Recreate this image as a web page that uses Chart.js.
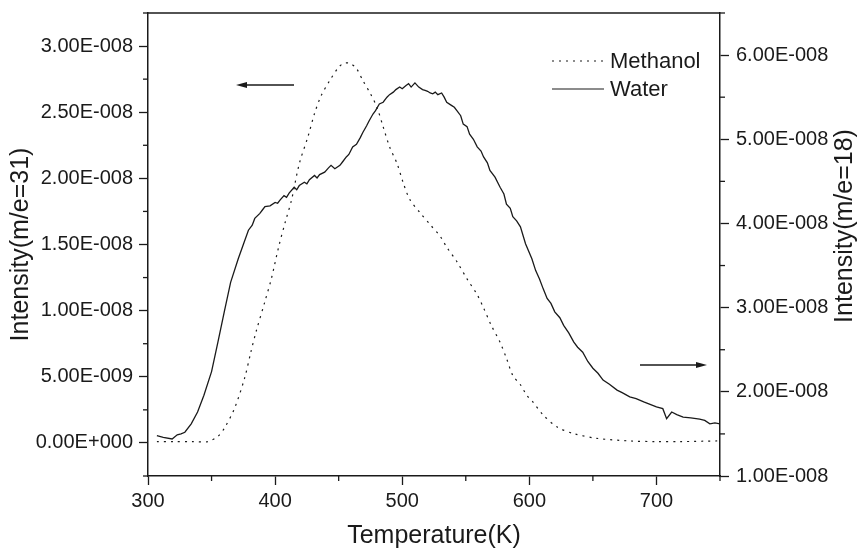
<!DOCTYPE html>
<html>
<head>
<meta charset="utf-8">
<script src="https://cdn.jsdelivr.net/npm/chart.js@4.4.1/dist/chart.umd.min.js"></script>
<style>
  html, body { margin: 0; padding: 0; background: #fff; }
  #wrap { width: 858px; height: 550px; }
</style>
</head>
<body>
<div id="wrap"><canvas id="tpdChart" width="858" height="550"></canvas></div>
<script>
// Methanol (m/e=31), left axis
const methanolT = [307, 320, 335, 347, 355, 360, 368, 376, 381, 385, 392, 397, 403, 408, 413, 419, 426, 431, 436, 443, 450, 454, 459, 464, 469, 475, 480, 485, 490, 496, 501, 506, 514, 522, 530, 535, 543, 551, 559, 564, 570, 577, 582, 587, 593, 598, 602, 611, 622, 635, 653, 679, 700, 719, 748];
const methanolI = [0.01, 0.01, 0.01, 0.01, 0.05, 0.11, 0.26, 0.49, 0.69, 0.84, 1.07, 1.24, 1.49, 1.67, 1.84, 2.11, 2.32, 2.49, 2.62, 2.74, 2.84, 2.87, 2.87, 2.83, 2.74, 2.64, 2.54, 2.39, 2.24, 2.11, 1.96, 1.84, 1.74, 1.65, 1.56, 1.48, 1.37, 1.24, 1.12, 1.02, 0.89, 0.76, 0.64, 0.51, 0.44, 0.36, 0.32, 0.21, 0.12, 0.07, 0.035, 0.015, 0.01, 0.01, 0.015];

// Water (m/e=18), right axis
const waterT = [307, 312, 319, 323, 326, 329, 334, 339, 344, 350, 355, 360, 365, 371, 375, 379, 382, 384, 388, 390, 392, 396, 400, 402, 404, 407, 409, 411, 415, 417, 419, 423, 425, 427, 431, 433, 435, 439, 442, 444, 447, 451, 453, 456, 458, 461, 464, 467, 469, 472, 474, 477, 479, 482, 485, 488, 490, 493, 495, 498, 500, 503, 505, 507, 510, 513, 516, 518, 520, 522, 524, 526, 528, 531, 533, 535, 539, 541, 543, 546, 548, 551, 553, 556, 559, 562, 564, 567, 569, 573, 577, 580, 582, 585, 587, 590, 593, 597, 602, 605, 608, 611, 614, 617, 620, 624, 627, 631, 635, 638, 642, 646, 650, 654, 658, 663, 669, 673, 679, 684, 690, 695, 700, 705, 708, 712, 716, 721, 727, 734, 738, 742, 746, 750];
const waterI = [1.48, 1.46, 1.44, 1.49, 1.50, 1.52, 1.62, 1.76, 1.96, 2.24, 2.59, 2.95, 3.30, 3.58, 3.75, 3.92, 3.98, 4.06, 4.12, 4.16, 4.20, 4.21, 4.25, 4.24, 4.28, 4.33, 4.31, 4.36, 4.43, 4.40, 4.45, 4.49, 4.47, 4.52, 4.57, 4.54, 4.58, 4.61, 4.66, 4.69, 4.65, 4.69, 4.73, 4.79, 4.82, 4.91, 4.94, 5.02, 5.08, 5.16, 5.22, 5.30, 5.34, 5.42, 5.44, 5.50, 5.53, 5.56, 5.59, 5.62, 5.60, 5.64, 5.66, 5.62, 5.67, 5.62, 5.59, 5.58, 5.57, 5.55, 5.54, 5.56, 5.53, 5.55, 5.50, 5.44, 5.40, 5.38, 5.34, 5.28, 5.18, 5.15, 5.06, 5.00, 4.91, 4.86, 4.79, 4.72, 4.63, 4.55, 4.43, 4.35, 4.23, 4.18, 4.08, 4.03, 3.96, 3.76, 3.58, 3.44, 3.34, 3.22, 3.11, 3.05, 2.95, 2.88, 2.79, 2.70, 2.59, 2.53, 2.47, 2.36, 2.28, 2.22, 2.14, 2.09, 2.02, 1.99, 1.94, 1.92, 1.88, 1.85, 1.82, 1.80, 1.68, 1.76, 1.73, 1.70, 1.69, 1.675, 1.66, 1.62, 1.63, 1.62];

const unit = 1e-8;
const xTicksMajor = [300, 400, 500, 600, 700];
const seriesNames = ['Methanol', 'Water'];
const axisTitles = ['Temperature(K)', 'Intensity(m/e=31)', 'Intensity(m/e=18)'];

const FONT = '"Liberation Sans", Arial, sans-serif';
const INK = '#1a1a1a';

function sciLabel(v) {
    if (Math.abs(v) < 1e-15) return '0.00E+000';
    let exp = Math.floor(Math.log10(Math.abs(v)));
    let m = v / Math.pow(10, exp);
    if (Math.abs(m) >= 9.995) { exp += 1; m = m / 10; }
    const sign = exp < 0 ? '-' : '+';
    return m.toFixed(2) + 'E' + sign + String(Math.abs(exp)).padStart(3, '0');
}

function isMultiple(v, step) {
    return Math.abs(Math.round(v / step) * step - v) < step * 1e-3;
}

// fixed box sizes so the plot area lands where the reference has it
function fixBox(w, h) {
    return s => {
        if (w) s.width = w;
        if (h) s.height = h;
        s.paddingTop = 0; s.paddingBottom = 0;
        s.paddingLeft = 0; s.paddingRight = 0;
    };
}

const tickColor = ctx => (ctx.tick && ctx.tick.label) ? INK : 'rgba(0,0,0,0)';

const decor = {
    id: 'decor',
    afterDraw(chart) {
        const c = chart.ctx;
        const a = chart.chartArea;
        c.save();
        c.strokeStyle = INK;
        c.lineWidth = 1.5;
        // top frame line
        c.beginPath();
        c.moveTo(a.left, a.top);
        c.lineTo(a.right, a.top);
        c.stroke();

        // minor ticks
        c.lineWidth = 1.3;
        const minor = 5;
        chart.scales.x.ticks.forEach(t => {
            if (t.label) return;
            const px = chart.scales.x.getPixelForValue(t.value);
            c.beginPath(); c.moveTo(px, a.bottom); c.lineTo(px, a.bottom + minor); c.stroke();
        });
        chart.scales.y.ticks.forEach(t => {
            if (t.label) return;
            const py = chart.scales.y.getPixelForValue(t.value);
            c.beginPath(); c.moveTo(a.left - minor, py); c.lineTo(a.left, py); c.stroke();
        });
        chart.scales.y2.ticks.forEach(t => {
            if (t.label) return;
            const py = chart.scales.y2.getPixelForValue(t.value);
            c.beginPath(); c.moveTo(a.right, py); c.lineTo(a.right + minor, py); c.stroke();
        });

        // arrows pointing to each axis
        function arrow(x1, y, x2) {
            const dir = Math.sign(x2 - x1);
            c.lineWidth = 1.3;
            c.beginPath(); c.moveTo(x1, y); c.lineTo(x2 - dir * 8, y); c.stroke();
            c.beginPath();
            c.moveTo(x2, y);
            c.lineTo(x2 - dir * 11, y - 3);
            c.lineTo(x2 - dir * 11, y + 3);
            c.closePath();
            c.fillStyle = INK;
            c.fill();
        }
        arrow(294, 85, 236);
        arrow(640, 365, 707);

        // legend
        c.font = '22px ' + FONT;
        c.fillStyle = INK;
        c.textBaseline = 'middle';
        c.textAlign = 'left';
        c.lineWidth = 1.2;
        c.setLineDash([2, 5]);
        c.beginPath(); c.moveTo(552, 61); c.lineTo(604, 61); c.stroke();
        c.setLineDash([]);
        c.beginPath(); c.moveTo(552, 89); c.lineTo(604, 89); c.stroke();
        c.fillText(seriesNames[0], 610, 62);
        c.fillText(seriesNames[1], 610, 90);

        // right axis title, reading bottom to top like the left one
        c.font = '25px ' + FONT;
        c.textAlign = 'center';
        c.translate(845, 226);
        c.rotate(-Math.PI / 2);
        c.fillText(axisTitles[2], 0, 0);
        c.restore();
    }
};

const ctx = document.getElementById('tpdChart').getContext('2d');
const tpdChart = new Chart(ctx, {
    type: 'line',
    data: {
        datasets: [{
            label: seriesNames[0],
            data: methanolT.map((t, i) => ({ x: t, y: methanolI[i] * unit })),
            yAxisID: 'y',
            borderColor: INK,
            borderWidth: 1.2,
            borderDash: [2, 5],
            pointRadius: 0,
            tension: 0.3,
            fill: false
        }, {
            label: seriesNames[1],
            data: waterT.map((t, i) => ({ x: t, y: waterI[i] * unit })),
            yAxisID: 'y2',
            borderColor: INK,
            borderWidth: 1.3,
            pointRadius: 0,
            tension: 0,
            fill: false
        }]
    },
    options: {
        responsive: false,
        animation: false,
        events: [],
        layout: { padding: { top: 13, left: 0, right: 0, bottom: 0 } },
        plugins: { legend: { display: false }, tooltip: { enabled: false } },
        scales: {
            x: {
                type: 'linear',
                position: 'bottom',
                min: 300,
                max: 750,
                afterFit: fixBox(0, 74),
                ticks: {
                    stepSize: 50,
                    autoSkip: false,
                    maxRotation: 0,
                    padding: 4,
                    color: INK,
                    font: { family: FONT, size: 20 },
                    callback: v => xTicksMajor.includes(v) ? String(v) : ''
                },
                grid: { drawOnChartArea: false, tickLength: 9, tickWidth: 1.3, tickColor: tickColor },
                border: { color: INK, width: 1.5 },
                title: {
                    display: true,
                    text: axisTitles[0],
                    color: INK,
                    font: { family: FONT, size: 25, lineHeight: 1 },
                    padding: { top: 0, bottom: 1 }
                }
            },
            y: {
                position: 'left',
                min: -0.25 * unit,
                max: 3.25 * unit,
                afterFit: fixBox(148, 0),
                ticks: {
                    stepSize: 0.25 * unit,
                    autoSkip: false,
                    padding: 6,
                    color: INK,
                    font: { family: FONT, size: 20 },
                    callback: v => (isMultiple(v, 0.5 * unit) && v > -0.1 * unit) ? sciLabel(v) : ''
                },
                grid: { drawOnChartArea: false, tickLength: 9, tickWidth: 1.3, tickColor: tickColor },
                border: { color: INK, width: 1.5 },
                title: {
                    display: true,
                    text: axisTitles[1],
                    color: INK,
                    font: { family: FONT, size: 25, lineHeight: 1.2 },
                    padding: { top: 6, bottom: 0 }
                }
            },
            y2: {
                position: 'right',
                min: 1 * unit,
                max: 6.5 * unit,
                afterFit: fixBox(138, 0),
                ticks: {
                    stepSize: 0.5 * unit,
                    autoSkip: false,
                    padding: 7,
                    color: INK,
                    font: { family: FONT, size: 20 },
                    callback: v => isMultiple(v, unit) ? sciLabel(v) : ''
                },
                grid: { drawOnChartArea: false, tickLength: 9, tickWidth: 1.3, tickColor: tickColor },
                border: { color: INK, width: 1.5 }
            }
        }
    },
    plugins: [decor]
});
</script>
</body>
</html>
